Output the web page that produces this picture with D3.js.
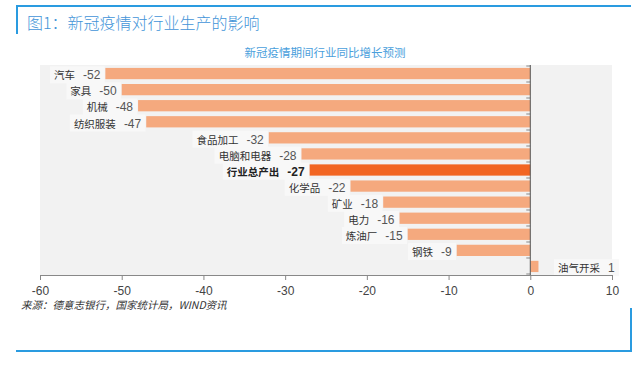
<!DOCTYPE html>
<html><head><meta charset="utf-8">
<script src="https://cdn.jsdelivr.net/npm/d3@7/dist/d3.min.js"></script>
<style>
html,body{margin:0;padding:0;background:#fff;}
svg{display:block;font-family:"Noto Sans CJK SC","Liberation Sans",Arial,sans-serif;}
</style></head>
<body><svg id="c" width="641" height="368"></svg>
<script>
const categories = ["汽车","家具","机械","纺织服装","食品加工","电脑和电器","行业总产出","化学品","矿业","电力","炼油厂","钢铁","油气开采"];
const values = [-52,-50,-48,-47,-32,-28,-27,-22,-18,-16,-15,-9,1];
const highlight = "行业总产出";
const xTicks = [-60,-50,-40,-30,-20,-10,0,10];
const titleText = "图1：新冠疫情对行业生产的影响";
const subtitleText = "新冠疫情期间行业同比增长预测";
const sourceText = "来源：德意志银行，国家统计局，WIND资讯";

const svg = d3.select("#c");
const blue = "#2a9be0";

// frame
svg.append("line").attr("x1",17).attr("x2",631).attr("y1",6).attr("y2",6).attr("stroke",blue).attr("stroke-width",2);
svg.append("line").attr("x1",17).attr("x2",17).attr("y1",5).attr("y2",34).attr("stroke",blue).attr("stroke-width",2);
svg.append("line").attr("x1",16).attr("x2",632).attr("y1",351).attr("y2",351).attr("stroke",blue).attr("stroke-width",2);
svg.append("line").attr("x1",631).attr("x2",631).attr("y1",308).attr("y2",352).attr("stroke",blue).attr("stroke-width",2);

svg.append("text").attr("x",27).attr("y",29).attr("font-size",16).attr("font-weight",300).attr("fill","#4294d8").text(titleText);
svg.append("text").attr("x",325).attr("y",57).attr("text-anchor","middle").attr("font-size",11.5).attr("fill","#4aa0dc").text(subtitleText);

const x = d3.scaleLinear().domain([-60,10]).range([40,612]);
const y = d3.scaleBand().domain(categories).range([66,274]).paddingInner(0.3).paddingOuter(0.12);

// plot background
svg.append("rect").attr("x",40).attr("y",65).attr("width",572).attr("height",210).attr("fill","#f2f2f2");

const data = categories.map((c,i)=>({c, v: values[i]}));

// label backgrounds + labels
const lg = svg.append("g");
data.forEach(d=>{
  const isH = d.c===highlight;
  const g = lg.append("g");
  const yc = y(d.c)+y.bandwidth()/2;
  let t;
  if (d.v < 0) {
    t = g.append("text").attr("x", x(d.v)-5).attr("y", yc).attr("dy","0.36em").attr("text-anchor","end");
  } else {
    t = g.append("text").attr("x", 558).attr("y", yc).attr("dy","0.36em").attr("text-anchor","start");
  }
  t.attr("font-weight", isH ? "bold" : "normal");
  t.append("tspan").attr("font-size",10.5).attr("fill", isH ? "#222" : "#333").text(d.c);
  t.append("tspan").attr("dx",8).attr("font-size",12).attr("fill", isH ? "#222" : "#555")
    .attr("font-family","'Liberation Sans',Arial,sans-serif").text(String(d.v));
  const bb = t.node().getBBox();
  g.insert("rect","text").attr("x",bb.x-4).attr("y",bb.y-1).attr("width",bb.width+8).attr("height",bb.height+2).attr("fill","#f8f8f8");
});

// bars
svg.append("g").selectAll("rect").data(data).join("rect")
  .attr("x", d=>x(Math.min(0,d.v)))
  .attr("width", d=>Math.abs(x(d.v)-x(0)))
  .attr("y", d=>y(d.c))
  .attr("height", y.bandwidth())
  .attr("fill", d=> d.c===highlight ? "#f26522" : "#f5a97e");

// zero axis with boundary ticks
const y0 = 66;
const bounds = d3.range(categories.length+1).map(i=>y0+i*(208/categories.length));
svg.append("g").selectAll("line").data(bounds).join("line")
  .attr("x1",x(0)-4).attr("x2",x(0)).attr("y1",d=>d).attr("y2",d=>d).attr("stroke","#888").attr("stroke-width",1);
svg.append("line").attr("x1",x(0)).attr("x2",x(0)).attr("y1",65).attr("y2",275).attr("stroke","#555").attr("stroke-width",1);

// x axis
const xa = svg.append("g").attr("transform","translate(0,275)")
  .call(d3.axisBottom(x).tickValues(xTicks).tickFormat(d=>String(d)).tickSize(5).tickSizeOuter(0).tickPadding(6));
xa.select(".domain").attr("stroke","#888");
xa.selectAll(".tick line").attr("stroke","#888");
xa.selectAll(".tick text").attr("font-size",12).attr("fill","#444").attr("font-family","'Liberation Sans',Arial,sans-serif");

svg.append("text").attr("x",21).attr("y",309).attr("font-size",10.5).attr("font-style","italic").attr("fill","#333").text(sourceText);
</script></body></html>
